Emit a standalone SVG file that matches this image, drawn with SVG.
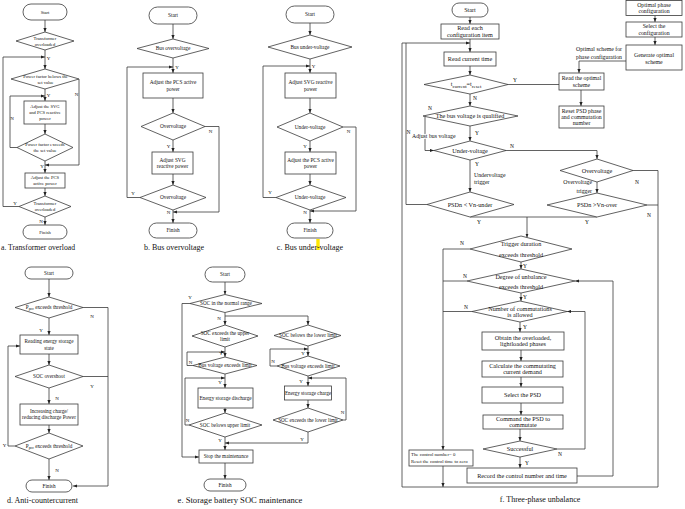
<svg xmlns="http://www.w3.org/2000/svg" width="685" height="509" viewBox="0 0 685 509">
<style>
.n rect,.n polygon{fill:#fff;stroke:#3a3a3a;stroke-width:.8}
.c path{fill:none;stroke:#3a3a3a;stroke-width:.8}
text{font-family:"Liberation Serif","Times New Roman",serif;fill:#111;text-anchor:middle}
.fa text{font-size:4.6px}
.fb text{font-size:5.3px}
.fd text{font-size:5.2px}
.fe text{font-size:5.2px}
.ff text{font-size:6.2px}
.fs text{font-size:5.8px}
.lab text{font-size:5px}
.labf text{font-size:5.5px}
.cap{font-size:8px}
.st{font-size:5px}
</style>
<defs>
<marker id="ah" viewBox="0 0 8 8" refX="8" refY="4" markerWidth="4" markerHeight="4" markerUnits="userSpaceOnUse" orient="auto"><path d="M0,0.8L8,4L0,7.2z" fill="#222"/></marker>
</defs>
<rect width="685" height="509" fill="#fff"/>

<!-- ===== Panel a ===== -->
<g class="c" id="conn-a">
<path d="M45,20V32" marker-end="url(#ah)"/>
<path d="M45,50V69" marker-end="url(#ah)"/>
<path d="M19,206.5H3V57H45" marker-end="url(#ah)"/>
<path d="M45,89V101" marker-end="url(#ah)"/>
<path d="M45,124V134" marker-end="url(#ah)"/>
<path d="M17,147.5H10V96H45" marker-end="url(#ah)"/>
<path d="M45,161V173" marker-end="url(#ah)"/>
<path d="M79,79V165H45" marker-end="url(#ah)"/>
<path d="M45,188V196" marker-end="url(#ah)"/>
<path d="M45,217V225" marker-end="url(#ah)"/>
</g>
<g class="fa n">
<g id="a-start"><rect x="23" y="4" width="44" height="16" rx="8"/><text class="st" x="45" y="13.8">Start</text></g>
<g id="a-d1"><polygon points="45,32 74,41 45,50 16,41"/><text x="45" y="40">Transformer</text><text x="45" y="45.6">overloaded</text></g>
<g id="a-d2"><polygon points="45,69 79,79 45,89 11,79"/><text x="45.5" y="77.9">Power factor belows the</text><text x="45.5" y="83.6">set value</text></g>
<g id="a-b1"><rect x="24" y="101" width="42" height="23"/><text x="45" y="108.4">Adjust the SVG</text><text x="45" y="114.1">and PCS reactive</text><text x="45" y="119.8">power</text></g>
<g id="a-d3"><polygon points="45,134 73,147.5 45,161 17,147.5"/><text x="45" y="146.3">Power factor exceeds</text><text x="45" y="152">the set value</text></g>
<g id="a-b2"><rect x="25" y="173" width="40" height="15"/><text x="45" y="179.3">Adjust the PCS</text><text x="45" y="185">active power</text></g>
<g id="a-d4"><polygon points="45,196 71,206.5 45,217 19,206.5"/><text x="45" y="205.3">Transformer</text><text x="45" y="211">overloaded</text></g>
<g id="a-end"><rect x="23" y="225" width="44" height="14" rx="7"/><text class="st" x="45" y="233.6">Finish</text></g>
</g>
<g class="lab">
<text x="48.5" y="59.5">Y</text><text x="48.5" y="96.5">Y</text><text x="12" y="120">N</text><text x="76.5" y="96">N</text>
<text x="42" y="168">Y</text><text x="15" y="205">Y</text><text x="41" y="223">N</text>
</g>
<text class="cap" x="1" y="249.5" style="text-anchor:start;font-size:7.7px">a. Transformer overload</text>

<!-- ===== Panel b ===== -->
<g class="c" id="conn-b">
<path d="M173,24V39" marker-end="url(#ah)"/>
<path d="M173,58V73" marker-end="url(#ah)"/>
<path d="M140,197.5H127V67H173" marker-end="url(#ah)"/>
<path d="M173,98V113" marker-end="url(#ah)"/>
<path d="M205,126.5H219V212H173" marker-end="url(#ah)"/>
<path d="M173,140V152" marker-end="url(#ah)"/>
<path d="M173,174V185" marker-end="url(#ah)"/>
<path d="M173,210V223" marker-end="url(#ah)"/>
</g>
<g class="fb n">
<g id="b-start"><rect x="149" y="7" width="48" height="17" rx="8.5"/><text x="173" y="17.3">Start</text></g>
<g id="b-d1"><polygon points="173,39 209,48.5 173,58 137,48.5"/><text x="173" y="50.4">Bus overvoltage</text></g>
<g id="b-b1"><rect x="143" y="73" width="60" height="25"/><text x="173" y="84.1">Adjust the PCS active</text><text x="173" y="90.6">power</text></g>
<g id="b-d2"><polygon points="173,113 205,126.5 173,140 141,126.5"/><text x="173" y="128.4">Overvoltage</text></g>
<g id="b-b2"><rect x="152" y="152" width="41" height="22"/><text x="172.5" y="161.6">Adjust SVG</text><text x="172.5" y="168.1">reactive power</text></g>
<g id="b-d3"><polygon points="173,185 206,197.5 173,210 140,197.5"/><text x="173" y="199.4">Overvoltage</text></g>
<g id="b-end"><rect x="149" y="223" width="48" height="15" rx="7.5"/><text x="173" y="232.4">Finish</text></g>
</g>
<g class="lab">
<text x="177" y="69">Y</text><text x="210.5" y="133">N</text><text x="168.5" y="147.5">Y</text><text x="133" y="194.5">Y</text><text x="168.5" y="214">N</text>
</g>
<text class="cap" x="174" y="249.5">b. Bus overvoltage</text>

<!-- ===== Panel c ===== -->
<g class="c" id="conn-c">
<path d="M310,23V35" marker-end="url(#ah)"/>
<path d="M310,59V73" marker-end="url(#ah)"/>
<path d="M276,197.5H263V66H310" marker-end="url(#ah)"/>
<path d="M310,98V113" marker-end="url(#ah)"/>
<path d="M343,127H356V211H310" marker-end="url(#ah)"/>
<path d="M310,141V152" marker-end="url(#ah)"/>
<path d="M310,174V185" marker-end="url(#ah)"/>
<path d="M310,210V223" marker-end="url(#ah)"/>
</g>
<g class="fb n">
<g id="c-start"><rect x="286" y="6" width="48" height="17" rx="8.5"/><text x="310" y="16.3">Start</text></g>
<g id="c-d1"><polygon points="310,35 352,47 310,59 268,47"/><text x="310" y="48.9">Bus under-voltage</text></g>
<g id="c-b1"><rect x="285" y="73" width="51" height="25"/><text x="310.5" y="84.1">Adjust SVG reactive</text><text x="310.5" y="90.6">power</text></g>
<g id="c-d2"><polygon points="310,113 343,127 310,141 277,127"/><text x="310" y="128.9">Under-voltage</text></g>
<g id="c-b2"><rect x="285" y="152" width="51" height="22"/><text x="310.5" y="161.6">Adjust the PCS active</text><text x="310.5" y="168.1">power</text></g>
<g id="c-d3"><polygon points="310,185 346,197.5 310,210 276,197.5"/><text x="310" y="199.4">Under-voltage</text></g>
<g id="c-end"><rect x="287" y="223" width="46" height="15" rx="7.5"/><text x="310" y="232.4">Finish</text></g>
</g>
<g class="lab">
<text x="313.5" y="68">Y</text><text x="348.5" y="133">N</text><text x="305" y="148">Y</text><text x="270" y="194">Y</text><text x="305" y="214">N</text>
</g>
<rect x="316.3" y="239" width="3.4" height="11" fill="#ffe800"/>
<text class="cap" x="310" y="249.5">c. Bus under-voltage</text>

<!-- ===== Panel d ===== -->
<g class="c" id="conn-d">
<path d="M49,279V297" marker-end="url(#ah)"/>
<path d="M83,307.5H108V486H73" marker-end="url(#ah)"/>
<path d="M49,318V335" marker-end="url(#ah)"/>
<path d="M49,354V365" marker-end="url(#ah)"/>
<path d="M83,376.5H108"/>
<path d="M49,388V404" marker-end="url(#ah)"/>
<path d="M49,425V433" marker-end="url(#ah)"/>
<path d="M15,446H8V346H20" marker-end="url(#ah)"/>
<path d="M49,459V480" marker-end="url(#ah)"/>
</g>
<g class="fd n">
<g id="d-start"><rect x="25" y="267" width="48" height="12" rx="6"/><text x="49" y="274.8">Start</text></g>
<g id="d-d1"><polygon points="49,297 83,307.5 49,318 15,307.5"/><text x="49" y="309.3">P<tspan font-size="3.8" dy="1">pcc</tspan><tspan dy="-1"> exceeds threshold</tspan></text></g>
<g id="d-b1"><rect x="20" y="335" width="58" height="19"/><text x="49" y="343.3">Reading energy storage</text><text x="49" y="349.5">state</text></g>
<g id="d-d2"><polygon points="49,365 83,376.5 49,388 15,376.5"/><text x="49" y="378.3">SOC overshoot</text></g>
<g id="d-b2"><rect x="20" y="404" width="58" height="21"/><text x="49" y="413.2">Increasing charge/</text><text x="49" y="419.4">reducing discharge Power</text></g>
<g id="d-d3"><polygon points="49,433 83,446 49,459 15,446"/><text x="49" y="447.8">P<tspan font-size="3.8" dy="1">pcc</tspan><tspan dy="-1"> exceeds threshold</tspan></text></g>
<g id="d-end"><rect x="26" y="480" width="46" height="12" rx="6"/><text x="49" y="487.8">Finish</text></g>
</g>
<g class="lab">
<text x="92" y="318">N</text><text x="41" y="332">Y</text><text x="92" y="388">Y</text><text x="57" y="399.5">N</text><text x="4.5" y="447">Y</text><text x="57" y="472">N</text>
</g>
<text class="cap" x="7" y="503" style="text-anchor:start">d. Anti-countercurrent</text>

<!-- ===== Panel e ===== -->
<g class="c" id="conn-e">
<path d="M225,282V294.5" marker-end="url(#ah)"/>
<path d="M190,303.5H182V457H199" marker-end="url(#ah)"/>
<path d="M225,312.5V325" marker-end="url(#ah)"/>
<path d="M225,316H308V325" marker-end="url(#ah)"/>
<path d="M225,347V357" marker-end="url(#ah)"/>
<path d="M193,365.5H187V352H225" marker-end="url(#ah)"/>
<path d="M225,374V388" marker-end="url(#ah)"/>
<path d="M225,408V413" marker-end="url(#ah)"/>
<path d="M189,425H185V378H225" marker-end="url(#ah)"/>
<path d="M225,437V450" marker-end="url(#ah)"/>
<path d="M308,432V443H225" marker-end="url(#ah)"/>
<path d="M225,463V479" marker-end="url(#ah)"/>
<path d="M308,346V356" marker-end="url(#ah)"/>
<path d="M277,366H270V349H308" marker-end="url(#ah)"/>
<path d="M308,376V386" marker-end="url(#ah)"/>
<path d="M308,400V408" marker-end="url(#ah)"/>
<path d="M343,420H346V378H308" marker-end="url(#ah)"/>
</g>
<g class="fe n">
<g id="e-start"><rect x="205" y="267" width="40" height="15" rx="7.5"/><text x="225" y="276.3">Start</text></g>
<g id="e-d0"><polygon points="225,294.5 262,303.5 225,312.5 190,303.5"/><text x="226" y="305.3">SOC in the normal range</text></g>
<g id="e-d1"><polygon points="225,325 258,336 225,347 192,336"/><text x="225" y="335">SOC exceeds the upper</text><text x="225" y="340.8">limit</text></g>
<g id="e-d2"><polygon points="225,357 257,365.5 225,374 193,365.5"/><text x="225" y="367.3">Bus voltage exceeds limit</text></g>
<g id="e-b1"><rect x="198" y="388" width="55" height="20"/><text x="225.5" y="399.8">Energy storage discharge</text></g>
<g id="e-d3"><polygon points="225,413 262,425 225,437 189,425"/><text x="225" y="426.8">SOC belows upper limit</text></g>
<g id="e-b2"><rect x="199" y="450" width="54" height="13"/><text x="226" y="458.3">Stop the maintenance</text></g>
<g id="e-end"><rect x="204" y="479" width="42" height="12" rx="6"/><text x="225" y="487.3">Finish</text></g>
<g id="e-d4"><polygon points="308,325 341,335.5 308,346 274,335.5"/><text x="308" y="337.3">SOC belows the lower limit</text></g>
<g id="e-d5"><polygon points="308,356 340,366 308,376 277,366"/><text x="308" y="367.8">Bus voltage exceeds limit</text></g>
<g id="e-b3"><rect x="284.5" y="386" width="47" height="14"/><text x="308" y="394.8">Energy storage charge</text></g>
<g id="e-d6"><polygon points="308,408 343,420 308,432 273,420"/><text x="308" y="421.8">SOC exceeds the lower limit</text></g>
</g>
<g class="lab">
<text x="190" y="299">Y</text><text x="219" y="319.5">N</text><text x="221" y="354.5">Y</text><text x="190.5" y="363.5">N</text><text x="220" y="384">Y</text>
<text x="187.5" y="421.5">N</text><text x="220" y="441.5">Y</text><text x="303" y="354.5">Y</text><text x="273" y="362.5">N</text><text x="301" y="382.5">Y</text>
<text x="342.5" y="414">N</text><text x="302" y="440.5">Y</text>
</g>
<text class="cap" x="240" y="503" style="font-size:8.6px">e. Storage battery SOC maintenance</text>

<!-- ===== Panel f ===== -->
<g class="c" id="conn-f">
<path d="M470,17V24" marker-end="url(#ah)"/>
<path d="M470,39V52" marker-end="url(#ah)"/>
<path d="M633,170.5H658V487H402V43H470" marker-end="url(#ah)"/>
<path d="M427,204.5H406V43"/>
<path d="M470,66V75" marker-end="url(#ah)"/>
<path d="M508,84.5H559"/>
<path d="M470,94V106" marker-end="url(#ah)"/>
<path d="M425,116.5V150.5H434" marker-end="url(#ah)"/>
<path d="M470,126V141" marker-end="url(#ah)"/>
<path d="M506,150.5H597V159" marker-end="url(#ah)"/>
<path d="M470,160V192" marker-end="url(#ah)"/>
<path d="M470,217H597"/>
<path d="M527,217V237.5" marker-end="url(#ah)"/>
<path d="M597,182V193" marker-end="url(#ah)"/>
<path d="M647,205H658"/>
<path d="M655,15.5V22" marker-end="url(#ah)"/>
<path d="M655,37V45" marker-end="url(#ah)"/>
<path d="M626,61H579V73" marker-end="url(#ah)"/>
<path d="M581,90V106" marker-end="url(#ah)"/>
<path d="M470,249H443V450" marker-end="url(#ah)"/>
<path d="M521,262V269" marker-end="url(#ah)"/>
<path d="M467,281H443"/>
<path d="M577,476H613V281H575" marker-end="url(#ah)"/>
<path d="M521,293V301" marker-end="url(#ah)"/>
<path d="M472,311.5H443"/>
<path d="M557,449H585V311.5H567" marker-end="url(#ah)"/>
<path d="M520,322V332" marker-end="url(#ah)"/>
<path d="M521,350V361" marker-end="url(#ah)"/>
<path d="M521,377V387" marker-end="url(#ah)"/>
<path d="M521,403V415" marker-end="url(#ah)"/>
<path d="M520,429V441" marker-end="url(#ah)"/>
<path d="M520,457V468" marker-end="url(#ah)"/>
<path d="M443,466V487" marker-end="url(#ah)"/>
</g>
<g class="ff n">
<g id="f-start"><rect x="452" y="3" width="36" height="14" rx="7"/><text x="470" y="12.1">Start</text></g>
<g id="f-readcfg"><rect x="441" y="24" width="58" height="15"/><text x="470" y="30.4">Read each</text><text x="470" y="36.9">configuration item</text></g>
<g id="f-readtime"><rect x="444" y="52" width="52" height="14"/><text x="470" y="61.1">Read current time</text></g>
<g id="f-dt"><polygon points="470,75 508,84.5 470,94 424,84.5"/><text x="466" y="86.2">t<tspan font-size="5" dy="1.3">current</tspan><tspan dy="-1.3">=t</tspan><tspan font-size="5" dy="1.3">reset</tspan></text></g>
<g id="f-dbus"><polygon points="470,106 518,116 470,126 423,116"/><text x="470" y="118.3">The bus voltage is qualified</text></g>
<g id="f-dunder"><polygon points="470,141 506,150.5 470,160 434,150.5"/><text x="470" y="152.6">Under-voltage</text></g>
<g id="f-dpsdu"><polygon points="470,192 514,204.5 470,217 427,204.5"/><text x="470" y="206.6">PSDn &lt; Vn-under</text></g>
<g id="f-dover"><polygon points="597,159 633,170.5 597,182 560,170.5"/><text x="597" y="172.6">Overvoltage</text></g>
<g id="f-dpsdo"><polygon points="597,193 647,205 597,217 547,205"/><text x="597" y="207.1">PSDn &gt;Vn-over</text></g>
<g id="f-dtrig"><polygon points="521,236 572,249 521,262 470,249"/><text x="521" y="246.2">Trigger duration</text><text x="521" y="256.8">exceeds threshold</text></g>
<g id="f-ddeg"><polygon points="521,269 575,281 521,293 467,281"/><text x="521" y="278.6">Degree of unbalance</text><text x="521" y="288.8">exceeds threshold</text></g>
<g id="f-dnum"><polygon points="520,301 567,311.5 520,322 472,311.5"/><text x="520" y="310.5">Number of commutations</text><text x="520" y="317.3">is allowed</text></g>
<g id="f-obtain"><rect x="482" y="332" width="82" height="18"/><text x="523" y="339.9">Obtain the overloaded,</text><text x="523" y="346.4">lightloaded phases</text></g>
<g id="f-calc"><rect x="482" y="361" width="81" height="16"/><text x="522.5" y="367.9">Calculate the commutating</text><text x="522.5" y="374.4">current demand</text></g>
<g id="f-select"><rect x="482" y="387" width="81" height="16"/><text x="522.5" y="397.1">Select the PSD</text></g>
<g id="f-command"><rect x="483" y="415" width="80" height="14"/><text x="523" y="420.9">Command the PSD to</text><text x="523" y="427.4">commutate</text></g>
<g id="f-dsucc"><polygon points="520,441 557,449 520,457 483,449"/><text x="520" y="451.1">Successful</text></g>
<g id="f-record"><rect x="467" y="468" width="110" height="15"/><text x="522" y="477.6">Record the control number and time</text></g>
<g id="f-reset0"><rect x="409" y="450" width="64" height="16"/><text x="411" y="456.3" style="text-anchor:start;font-size:4.8px">The control number= 0</text><text x="411" y="463.3" style="text-anchor:start;font-size:4.8px">Reset the control time  to zero</text></g>
</g>
<g class="fs n">
<g id="f-optcfg"><rect x="626" y="0.5" width="56" height="15"/><text x="654" y="6.85">Optimal phase</text><text x="654" y="13.35">configuration</text></g>
<g id="f-selcfg"><rect x="626" y="22" width="56" height="15"/><text x="654" y="28.35">Select the</text><text x="654" y="34.85">configuration</text></g>
<g id="f-gen"><rect x="626" y="45" width="56" height="25"/><text x="654" y="57">Generate optimal</text><text x="654" y="64">scheme</text></g>
<g id="f-readopt"><rect x="559" y="73" width="45" height="17"/><text x="581.5" y="80.35">Read the optimal</text><text x="581.5" y="86.85">scheme</text></g>
<g id="f-resetpsd"><rect x="559" y="106" width="45" height="22"/><text x="581.5" y="112.8">Reset PSD phase</text><text x="581.5" y="119.1">and commutation</text><text x="581.5" y="125.4">number</text></g>
</g>
<g class="fs">
<text x="599" y="51">Optimal  scheme for</text><text x="599" y="58.5">phase configuration</text>
<text x="474" y="176.5" style="text-anchor:start">Undervoltage</text><text x="474" y="183.5" style="text-anchor:start">trigger</text>
<text x="592" y="184" style="text-anchor:end">Overvoltage</text><text x="592" y="192.5" style="text-anchor:end">trigger</text>
<text x="412" y="138" style="text-anchor:start;stroke:#fff;stroke-width:1.6px;paint-order:stroke">Adjust bus voltage</text>
</g>
<g class="labf">
<text x="515" y="82">Y</text><text x="475" y="100">N</text><text x="430" y="109.5">N</text><text x="408.5" y="134">N</text><text x="477" y="135">Y</text>
<text x="512" y="148">N</text><text x="477" y="165.5">Y</text><text x="479" y="224">Y</text><text x="637" y="184">N</text><text x="649" y="216.5">N</text>
<text x="587" y="224">Y</text><text x="462" y="245">N</text><text x="525" y="268">Y</text><text x="465" y="277.5">N</text><text x="525" y="298.5">Y</text>
<text x="466" y="308.5">N</text><text x="525" y="328.5">Y</text><text x="560" y="456">N</text><text x="527" y="465">Y</text>
</g>
<text class="cap" x="540" y="501.5">f. Three-phase unbalance</text>
</svg>
